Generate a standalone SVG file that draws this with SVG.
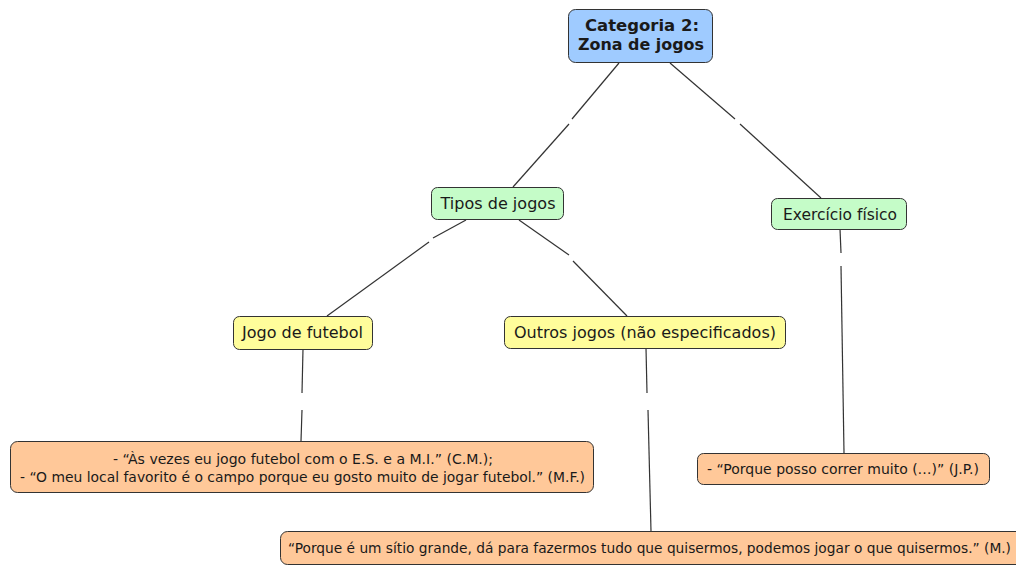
<svg xmlns="http://www.w3.org/2000/svg" width="1016" height="565" viewBox="0 0 1016 565">
<style>
.n rect{stroke:#333;stroke-width:1}
.blue{fill:#9fcbff}
.green{fill:#c5fcc8}
.yellow{fill:#fffd9b}
.orange{fill:#ffc899}
text{font-family:"DejaVu Sans",Verdana,sans-serif;font-size:15px;fill:#1a1a1a;text-anchor:middle}
.b{font-weight:bold;font-size:16px}
.q{font-size:13.5px}
#connectors line{stroke:#333;stroke-width:1.2}
</style>
<rect width="1016" height="565" fill="#fff"/>
<g id="connectors">
<line x1="619" y1="63" x2="572" y2="119"/><line x1="569" y1="124" x2="513" y2="187"/>
<line x1="670" y1="63" x2="735" y2="119"/><line x1="740" y1="124" x2="821" y2="198"/>
<line x1="466" y1="220" x2="433" y2="238"/><line x1="429" y1="242" x2="327" y2="316"/>
<line x1="519" y1="220" x2="569" y2="255"/><line x1="573" y1="261" x2="627" y2="316"/>
<line x1="303" y1="349" x2="302" y2="393"/><line x1="302" y1="410" x2="301" y2="441"/>
<line x1="646" y1="348" x2="647" y2="393"/><line x1="648" y1="410" x2="651" y2="531"/>
<line x1="840" y1="229" x2="841" y2="253"/><line x1="841" y1="266" x2="844" y2="453"/>
</g>
<g id="cat" class="n"><rect class="blue" x="568.5" y="9.5" width="144" height="53" rx="7"/><text class="b" x="642" y="31" textLength="114" lengthAdjust="spacingAndGlyphs">Categoria 2:</text><text class="b" x="641" y="50" textLength="126" lengthAdjust="spacingAndGlyphs">Zona de jogos</text></g>
<g id="tipos" class="n"><rect class="green" x="431.5" y="187.5" width="132" height="32" rx="6"/><text x="498" y="209" textLength="115" lengthAdjust="spacingAndGlyphs">Tipos de jogos</text></g>
<g id="exercicio" class="n"><rect class="green" x="771.5" y="198.5" width="135" height="31" rx="6"/><text x="840" y="220" textLength="114" lengthAdjust="spacingAndGlyphs">Exercício físico</text></g>
<g id="futebol" class="n"><rect class="yellow" x="233.5" y="316.5" width="139" height="33" rx="6"/><text x="302.5" y="338" textLength="121" lengthAdjust="spacingAndGlyphs">Jogo de futebol</text></g>
<g id="outros" class="n"><rect class="yellow" x="504.5" y="316.5" width="281" height="32" rx="6"/><text x="645" y="338" textLength="262" lengthAdjust="spacingAndGlyphs">Outros jogos (não especificados)</text></g>
<g id="q1" class="n"><rect class="orange" x="10.5" y="441.5" width="583" height="51" rx="7"/><text class="q" x="303" y="464" textLength="380" lengthAdjust="spacingAndGlyphs">- “Às vezes eu jogo futebol com o E.S. e a M.I.” (C.M.);</text><text class="q" x="302.5" y="482" textLength="565" lengthAdjust="spacingAndGlyphs">- “O meu local favorito é o campo porque eu gosto muito de jogar futebol.” (M.F.)</text></g>
<g id="q2" class="n"><rect class="orange" x="697.5" y="453.5" width="292" height="31" rx="6"/><text class="q" x="843" y="474" textLength="272" lengthAdjust="spacingAndGlyphs">- “Porque posso correr muito (…)” (J.P.)</text></g>
<g id="q3" class="n"><rect class="orange" x="280.5" y="531.5" width="745" height="33" rx="7"/><text class="q" x="649.5" y="553" textLength="723" lengthAdjust="spacingAndGlyphs">“Porque é um sítio grande, dá para fazermos tudo que quisermos, podemos jogar o que quisermos.” (M.)</text></g>
</svg>
